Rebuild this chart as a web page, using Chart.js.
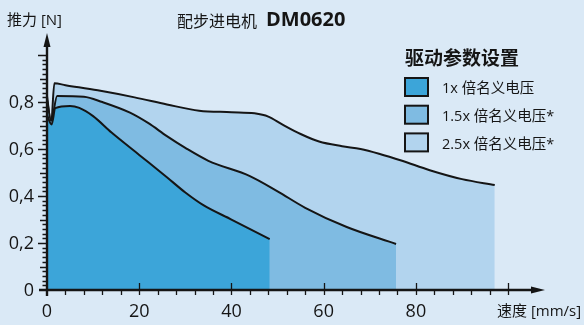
<!DOCTYPE html>
<html>
<head>
<meta charset="utf-8">
<script src="https://cdn.jsdelivr.net/npm/chart.js@4.4.0/dist/chart.umd.min.js"></script>
<style>
  html, body { margin: 0; padding: 0; background: #dae9f6; }
  canvas { display: block; }
</style>
</head>
<body>
<canvas id="grafico" width="584" height="325"></canvas>
<script>
// ===== DADOS =====
const SERIES_LABELS = ['1x 倍名义电压', '1.5x 倍名义电压*', '2.5x 倍名义电压*'];
const SERIES_COLORS = ['#3ca5d9', '#7fbbe2', '#b2d4ee'];

const x1 = [0, 1, 1.8, 5, 7, 10, 14, 20, 26, 30, 34, 40, 48.3];
const y1 = [0.745, 0.705, 0.774, 0.783, 0.775, 0.74, 0.67, 0.575, 0.48, 0.415, 0.36, 0.3, 0.217];

const x15 = [0, 0.9, 2.2, 8, 12, 18, 22, 26, 30, 35, 44, 50, 56, 65, 75.7];
const y15 = [0.81, 0.72, 0.826, 0.823, 0.8, 0.755, 0.71, 0.655, 0.605, 0.55, 0.485, 0.42, 0.35, 0.268, 0.196];

const x25 = [0, 0.9, 1.6, 4, 11, 19, 26, 33, 40, 45, 48, 51, 55, 59, 64, 68, 72, 77, 83, 90, 97.1];
const y25 = [0.825, 0.71, 0.88, 0.872, 0.85, 0.82, 0.79, 0.763, 0.757, 0.752, 0.738, 0.705, 0.664, 0.632, 0.612, 0.6, 0.58, 0.55, 0.51, 0.472, 0.447];

const xTicks = [0, 20, 40, 60, 80, 100];
const xTickLabels = ['0', '20', '40', '60', '80', ''];
const yTicks = [0, 0.2, 0.4, 0.6, 0.8];
const yTickLabels = ['0', '0,2', '0,4', '0,6', '0,8'];

const FONTE = '"Open Sans", "Noto Sans CJK SC", sans-serif';
const TINTA = '#151515';

function pontos(xs, ys) {
  return xs.map((x, i) => ({ x, y: ys[i] }));
}

// ===== EIXOS, TEXTOS E LEGENDA =====
const eixosPlugin = {
  id: 'eixos',
  afterDatasetsDraw(chart) {
    const ctx = chart.ctx;
    const sx = chart.scales.x;
    const sy = chart.scales.y;
    const x0 = sx.getPixelForValue(0);
    const y0 = sy.getPixelForValue(0);
    const area = chart.chartArea;

    ctx.save();
    ctx.strokeStyle = TINTA;
    ctx.fillStyle = TINTA;

    // linhas dos eixos
    ctx.lineWidth = 2.4;
    ctx.beginPath();
    ctx.moveTo(x0 - 8, y0);
    ctx.lineTo(area.right - 12, y0);
    ctx.moveTo(x0, y0 + 6);
    ctx.lineTo(x0, area.top + 12);
    ctx.stroke();

    // setas
    ctx.beginPath();
    ctx.moveTo(area.right, y0);
    ctx.lineTo(area.right - 14, y0 - 3.5);
    ctx.lineTo(area.right - 14, y0 + 3.5);
    ctx.closePath();
    ctx.fill();
    ctx.beginPath();
    ctx.moveTo(x0, area.top);
    ctx.lineTo(x0 - 3.5, area.top + 14);
    ctx.lineTo(x0 + 3.5, area.top + 14);
    ctx.closePath();
    ctx.fill();

    // ticks x
    ctx.lineWidth = 1.3;
    ctx.beginPath();
    for (let v = 4; v <= 100; v += 4) {
      const px = Math.round(sx.getPixelForValue(v)) + 0.5;
      const major = v % 20 === 0;
      ctx.moveTo(px, major ? y0 - 7 : y0);
      ctx.lineTo(px, y0 + 5);
    }
    // ticks y
    for (let k = 1; k <= 50; k++) {
      const v = k / 50;
      const py = Math.round(sy.getPixelForValue(v)) + 0.5;
      let len = 4.5;
      if (k % 10 === 0) len = 9;
      else if (k % 5 === 0) len = 7;
      ctx.moveTo(x0 - len, py);
      ctx.lineTo(x0, py);
    }
    ctx.stroke();

    // rótulos dos ticks
    ctx.font = '18px ' + FONTE;
    ctx.textBaseline = 'middle';
    ctx.textAlign = 'right';
    yTicks.forEach((v, i) => {
      ctx.fillText(yTickLabels[i], x0 - 13, sy.getPixelForValue(v) + 1);
    });
    ctx.textAlign = 'center';
    xTicks.forEach((v, i) => {
      if (xTickLabels[i]) ctx.fillText(xTickLabels[i], sx.getPixelForValue(v), y0 + 22);
    });

    // títulos dos eixos
    ctx.font = '15px ' + FONTE;
    ctx.textAlign = 'left';
    ctx.fillText('推力 [N]', 7, 21);
    ctx.fillText('速度 [mm/s]', 497, 312);

    // título
    ctx.textBaseline = 'alphabetic';
    ctx.font = '16px ' + FONTE;
    ctx.fillText('配步进电机', 177, 27);
    ctx.font = 'bold 20px ' + FONTE;
    ctx.fillText('DM0620', 266, 26);

    // legenda
    ctx.textBaseline = 'middle';
    ctx.font = 'bold 19px ' + FONTE;
    ctx.fillText('驱动参数设置', 405, 60);
    ctx.font = '14.5px ' + FONTE;
    chart.data.datasets.forEach((ds, i) => {
      const cy = 87 + i * 27.7;
      ctx.fillStyle = ds.backgroundColor;
      ctx.fillRect(405, cy - 9, 23, 18);
      ctx.lineWidth = 2;
      ctx.strokeStyle = TINTA;
      ctx.strokeRect(405, cy - 9, 23, 18);
      ctx.fillStyle = TINTA;
      ctx.fillText(ds.label, 442, cy + 2);
    });

    ctx.restore();
  }
};

// ===== GRÁFICO =====
const series = [pontos(x1, y1), pontos(x15, y15), pontos(x25, y25)];

new Chart(document.getElementById('grafico').getContext('2d'), {
  type: 'line',
  data: {
    datasets: series.map((d, i) => ({
      label: SERIES_LABELS[i],
      data: d,
      backgroundColor: SERIES_COLORS[i],
      borderColor: TINTA,
      borderWidth: 2,
      pointRadius: 0,
      cubicInterpolationMode: 'monotone',
      fill: 'origin',
    }))
  },
  options: {
    responsive: false,
    animation: false,
    devicePixelRatio: 1,
    layout: { padding: { left: 47, right: 39, top: 33, bottom: 35 } },
    plugins: { legend: { display: false }, tooltip: { enabled: false } },
    scales: {
      x: { type: 'linear', min: 0, max: 108, display: false },
      y: { type: 'linear', min: 0, max: 1.094, display: false }
    }
  },
  plugins: [eixosPlugin]
});
</script>
</body>
</html>
